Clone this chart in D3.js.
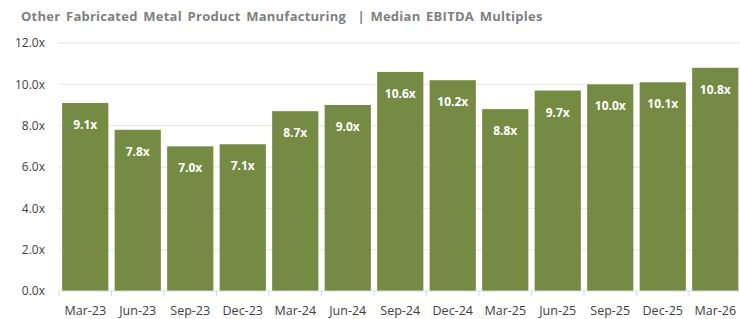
<!DOCTYPE html>
<html>
<head>
<meta charset="utf-8">
<script src="https://cdn.jsdelivr.net/npm/d3@7"></script>
<style>
  body { margin: 0; background: #fff; }
</style>
</head>
<body>
<script>
'use strict';

// chart data
let quarters = ['Mar-23', 'Jun-23', 'Sep-23', 'Dec-23', 'Mar-24', 'Jun-24', 'Sep-24',
                'Dec-24', 'Mar-25', 'Jun-25', 'Sep-25', 'Dec-25', 'Mar-26'];
let multiples = [9.1, 7.8, 7.0, 7.1, 8.7, 9.0, 10.6, 10.2, 8.8, 9.7, 10.0, 10.1, 10.8];
let yTicks = [0, 2, 4, 6, 8, 10, 12];
let title = 'Other Fabricated Metal Product Manufacturing  | Median EBITDA Multiples';

(function() {
  let svg = d3.select('body')
    .append('svg')
    .attr('width', 740)
    .attr('height', 319)
    .style('font-family', '"Open Sans", sans-serif');

  // title
  svg.append('text')
    .attr('x', 21)
    .attr('y', 21)
    .attr('fill', '#7f7f7f')
    .style('font-size', '13px')
    .style('font-weight', 'bold')
    .style('word-spacing', '2px')
    .style('letter-spacing', '0.25px')
    .style('white-space', 'pre')
    .text(title);

  let xScale = d3.scaleBand()
    .domain(quarters)
    .range([59, 741.5])
    .paddingInner(0.12)
    .paddingOuter(0.06);

  let yScale = d3.scaleLinear()
    .domain([0, 12])
    .range([291, 43]);

  // gridlines
  svg.append('g')
    .selectAll('line')
    .data(yTicks.filter(d => d > 0))
    .enter()
    .append('line')
      .attr('x1', 59)
      .attr('x2', 740)
      .attr('y1', d => yScale(d))
      .attr('y2', d => yScale(d))
      .attr('stroke', '#ebebeb')
      .attr('stroke-width', 1.3);

  // y axis labels
  let yAxis = d3.axisLeft(yScale)
    .tickValues(yTicks)
    .tickSize(0)
    .tickPadding(14)
    .tickFormat(d => d3.format('.1f')(d) + 'x');
  let gy = svg.append('g')
    .attr('transform', 'translate(59, 0)')
    .call(yAxis);
  gy.select('.domain').remove();
  gy.selectAll('text')
    .attr('fill', '#404040')
    .style('font-size', '12px')
    .style('font-family', '"Open Sans", sans-serif');

  // bars
  svg.append('g')
    .selectAll('rect')
    .data(multiples)
    .enter()
    .append('rect')
      .attr('x', (d, i) => xScale(quarters[i]))
      .attr('y', d => yScale(d))
      .attr('width', xScale.bandwidth())
      .attr('height', d => yScale(0) - yScale(d))
      .attr('fill', '#758a43');

  // value labels
  svg.append('g')
    .selectAll('text')
    .data(multiples)
    .enter()
    .append('text')
      .attr('x', (d, i) => xScale(quarters[i]) + xScale.bandwidth() / 2)
      .attr('y', d => yScale(d) + 26)
      .attr('text-anchor', 'middle')
      .attr('fill', '#ffffff')
      .style('font-size', '12px')
      .style('font-weight', 'bold')
      .style('font-family', '"Open Sans", sans-serif')
      .text(d => d3.format('.1f')(d) + 'x');

  // x axis with tick marks between categories
  let baseY = yScale(0);
  svg.append('line')
    .attr('x1', 59)
    .attr('x2', 740)
    .attr('y1', baseY)
    .attr('y2', baseY)
    .attr('stroke', '#d9d9d9');

  let step = xScale.step();
  let bounds = quarters.map((q, i) => xScale(q) - step * xScale.paddingInner() / 2);
  svg.append('g')
    .selectAll('line')
    .data(bounds)
    .enter()
    .append('line')
      .attr('x1', d => d)
      .attr('x2', d => d)
      .attr('y1', baseY)
      .attr('y2', baseY + 5)
      .attr('stroke', '#d9d9d9');

  svg.append('g')
    .selectAll('text')
    .data(quarters)
    .enter()
    .append('text')
      .attr('x', d => xScale(d) + xScale.bandwidth() / 2)
      .attr('y', 315)
      .attr('text-anchor', 'middle')
      .attr('fill', '#404040')
      .style('font-size', '12.5px')
      .text(d => d);
})();
</script>
</body>
</html>
